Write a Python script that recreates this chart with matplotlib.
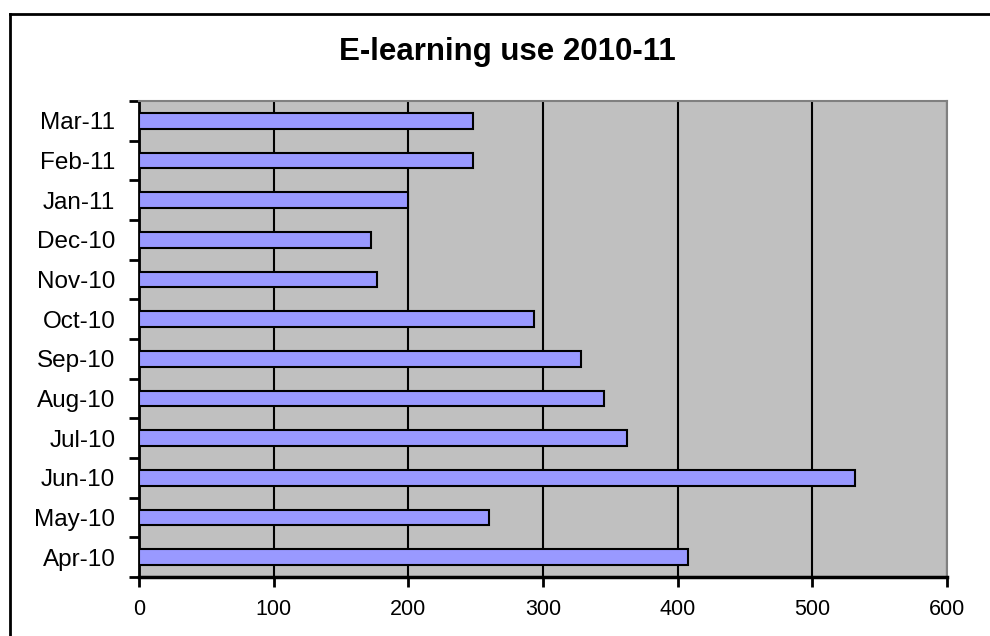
import matplotlib.pyplot as plt
import numpy as np
from matplotlib.lines import Line2D

months = ['Apr-10', 'May-10', 'Jun-10', 'Jul-10', 'Aug-10', 'Sep-10',
          'Oct-10', 'Nov-10', 'Dec-10', 'Jan-11', 'Feb-11', 'Mar-11']
use = [408, 260, 532, 362, 345, 328, 293, 177, 172, 200, 248, 248]
xticks = [0, 100, 200, 300, 400, 500, 600]

plt.rcParams['font.family'] = ['Liberation Sans', 'DejaVu Sans']

fig = plt.figure(figsize=(9.9, 6.36), dpi=100)
ax = fig.add_axes([0.1404, 0.0928, 0.8162, 0.7484])
ax.set_facecolor('#C0C0C0')

pos = np.arange(len(months))
ax.barh(pos, use, height=0.4, color='#9999FF', edgecolor='black', linewidth=1.5, zorder=3)

ax.set_xlim(0, 600)
ax.set_ylim(-0.5, len(months) - 0.5)
ax.set_xticks(xticks)
ax.set_xticklabels([str(t) for t in xticks], fontsize=15.5)
ax.xaxis.grid(True, color='black', linewidth=1.5, zorder=1)
ax.set_axisbelow(True)

# ticks between the categories, labels in the middle
ax.set_yticks(np.arange(len(months) + 1) - 0.5)
ax.set_yticklabels([])
ax.set_yticks(pos, minor=True)
ax.set_yticklabels(months, minor=True, fontsize=17.5)
ax.tick_params(axis='y', which='minor', length=0, pad=17)
ax.tick_params(axis='y', which='major', length=7, width=2, direction='out')
ax.tick_params(axis='x', length=7, width=2, direction='out', pad=9)

for s in ['top', 'right']:
    ax.spines[s].set_color('#808080')
    ax.spines[s].set_linewidth(1.5)
ax.spines['left'].set_linewidth(2)
ax.spines['bottom'].set_linewidth(2.5)

fig.text(0.512, 0.919, 'E-learning use 2010-11', ha='center', va='center',
         fontsize=22.5, fontweight='bold')

# chart border (only left and top are inside the picture)
fig.add_artist(Line2D([0.0101, 0.0101], [0, 0.978], color='black', linewidth=2))
fig.add_artist(Line2D([0.0101, 1.0], [0.978, 0.978], color='black', linewidth=2))

fig.savefig('out.png', dpi=100)
